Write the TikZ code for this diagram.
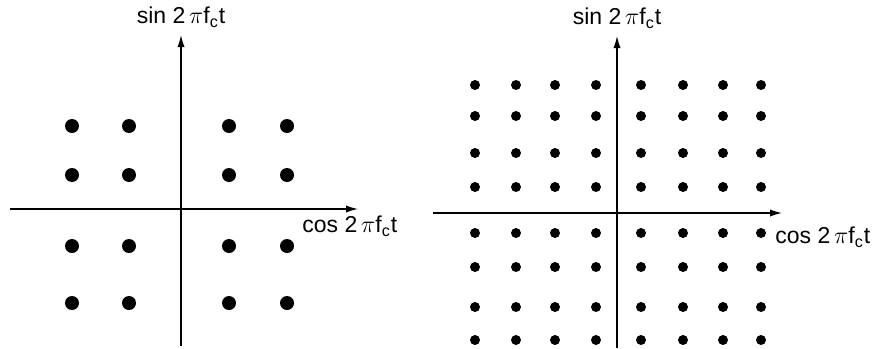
\documentclass[tikz,border=0pt]{standalone}
\usepackage{fontspec}
\setmainfont{Liberation Sans}
\usetikzlibrary{arrows.meta, positioning}

\tikzset{
  axis/.style={line width=0.6pt, -{Latex[length=6pt,width=3.6pt]}},
  lbl/.style={font=\fontsize{11.5}{14}\selectfont, inner sep=0pt},
}
\newcommand{\carrier}[1]{#1 2\,$\pi$f\textsubscript{c}t}

\begin{document}
\begin{tikzpicture}[x=0.5pt, y=-0.5pt]
\useasboundingbox (0,0) rectangle (876,348);

% 16-QAM
\coordinate (l-w) at (10,209);
\coordinate (l-e) at (358,209);
\coordinate (l-s) at (181,346);
\coordinate (l-n) at (181,35);
\draw[axis] (l-w) -- (l-e);
\draw[axis] (l-s) -- (l-n);
\foreach \x in {72,129,229,287}
  \foreach \y in {126,175,246,303}
    \fill (\x,\y) circle[radius=3.5pt];
\node[lbl, above=3.5pt of l-n] (l-sin) {\carrier{sin}};
\node[lbl, anchor=west] (l-cos) at (302,226) {\carrier{cos}};

% 64-QAM
\coordinate (r-w) at (433,213);
\coordinate (r-e) at (782,213);
\coordinate (r-s) at (617,348);
\coordinate (r-n) at (617,36);
\draw[axis] (r-w) -- (r-e);
\draw[axis] (r-s) -- (r-n);
\foreach \x in {475,516,555,596,641,683,723,761}
  \foreach \y in {85,116,153,187,233,267,307,340}
    \fill (\x,\y) circle[radius=2.5pt];
\node[lbl, above=3.5pt of r-n] (r-sin) {\carrier{sin}};
\node[lbl, anchor=west] (r-cos) at (775,237) {\carrier{cos}};
\end{tikzpicture}
\end{document}
